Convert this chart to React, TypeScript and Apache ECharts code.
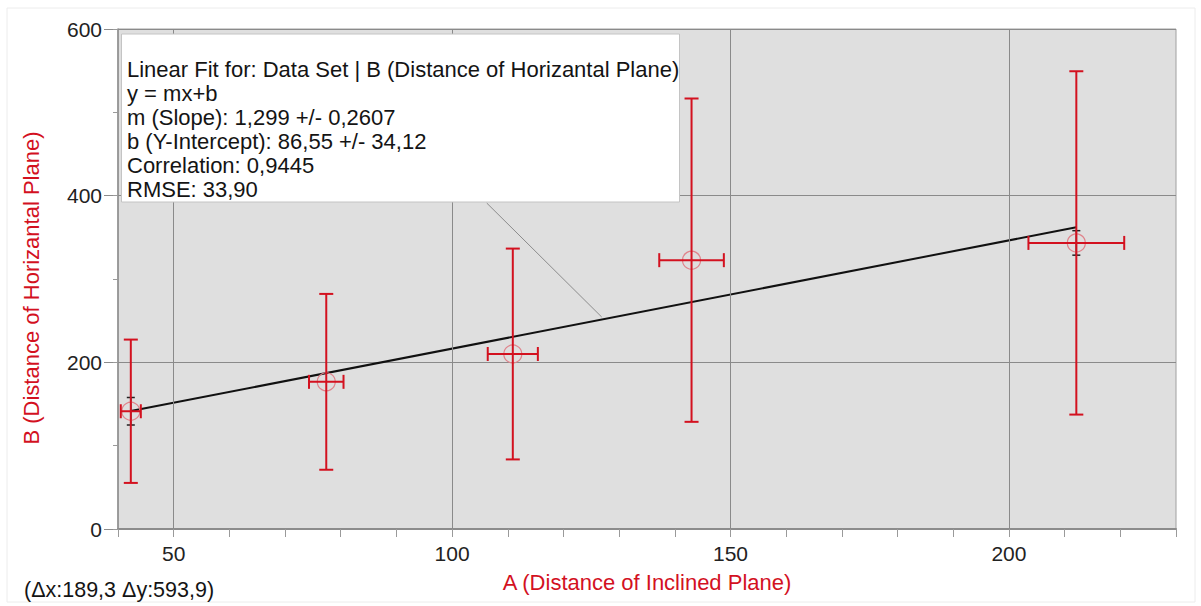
import React, { useEffect, useRef } from "react";
import * as echarts from "echarts";

// ---- data ----
const xValues = [42.3, 77.4, 110.9, 143.0, 212.1];
const yValues = [141.3, 176.6, 210.0, 322.6, 343.3];
const xErrors = [1.8, 3.1, 4.5, 5.8, 8.6];
const yErrors = [86, 105.5, 126.5, 194, 206];
// small black uncertainty marks visible at the first and last points
const blackIdx = [0, 4];
const blackErrors = [16.5, 14.7];

const slope = 1.299;
const intercept = 86.55;

const xTickLabels = [50, 100, 150, 200];
const yTickLabels = [0, 200, 400, 600];

const fitText = [
  "Linear Fit for: Data Set | B (Distance of Horizantal Plane)",
  "y = mx+b",
  "m (Slope): 1,299 +/- 0,2607",
  "b (Y-Intercept): 86,55 +/- 34,12",
  "Correlation: 0,9445",
  "RMSE: 33,90",
];
const deltaText = "(\u0394x:189,3 \u0394y:593,9)";
const xName = "A (Distance of Inclined Plane)";
const yName = "B (Distance of Horizantal Plane)";

const RED = "#d3111f";
const FONT = "Liberation Sans, Arial, sans-serif";

export default function App() {
  const ref = useRef<HTMLDivElement>(null);
  useEffect(() => {
    if (!ref.current) return;
    const chart = echarts.init(ref.current, undefined, { renderer: "svg" });
    const pts = xValues.map((x, i) => [x, yValues[i], xErrors[i], yErrors[i]]);
    const blackPts = blackIdx.map((i, k) => [xValues[i], yValues[i], blackErrors[k]]);
    const x0 = xValues[0];
    const x1 = xValues[xValues.length - 1];
    const fitData = [
      [x0, slope * x0 + intercept],
      [x1, slope * x1 + intercept],
    ];

    const option: any = {
      animation: false,
      backgroundColor: "#ffffff",
      textStyle: { fontFamily: FONT },
      grid: {
        left: 118,
        top: 29,
        width: 1058,
        height: 500,
        show: true,
        backgroundColor: "#dfdfdf",
        borderColor: "#a0a0a0",
        borderWidth: 1,
      },
      xAxis: {
        type: "value",
        min: 40,
        max: 230,
        interval: 10,
        name: xName,
        nameLocation: "middle",
        nameGap: 42,
        nameTextStyle: { color: RED, fontSize: 22, fontFamily: FONT },
        axisLine: { show: true, lineStyle: { color: "#8c8c8c", width: 2 } },
        axisTick: { show: true, length: 8, lineStyle: { color: "#9a9a9a" } },
        axisLabel: {
          color: "#222",
          fontSize: 21,
          margin: 14,
          fontFamily: FONT,
          formatter: (v: number) => (xTickLabels.indexOf(v) >= 0 ? String(v) : ""),
        },
        splitLine: { show: false },
      },
      yAxis: [
        {
          type: "value",
          min: 0,
          max: 600,
          interval: 200,
          name: yName,
          nameLocation: "middle",
          nameGap: 76,
          nameTextStyle: { color: RED, fontSize: 22, fontFamily: FONT, padding: [0, 18, 0, 0] },
          axisLine: { show: true, lineStyle: { color: "#8c8c8c", width: 1.5 } },
          axisTick: { show: true, length: 14, lineStyle: { color: "#8c8c8c" } },
          axisLabel: {
            color: "#222",
            fontSize: 21,
            margin: 16,
            fontFamily: FONT,
            formatter: (v: number) => (yTickLabels.indexOf(v) >= 0 ? String(v) : ""),
          },
          splitLine: { show: true, lineStyle: { color: "#8a8a8a", width: 1 } },
        },
        {
          type: "value",
          min: 0,
          max: 600,
          interval: 100,
          position: "left",
          axisLine: { show: false },
          axisTick: { show: true, length: 5, lineStyle: { color: "#9a9a9a" } },
          axisLabel: { show: false },
          splitLine: { show: false },
        },
      ],
      series: [
        {
          type: "scatter",
          data: [],
          z: 1,
          silent: true,
          markLine: {
            silent: true,
            symbol: "none",
            label: { show: false },
            lineStyle: { color: "#8a8a8a", width: 1, type: "solid" },
            data: xTickLabels.map((v) => ({ xAxis: v })),
          },
        },
        {
          type: "custom",
          z: 3,
          data: blackPts,
          renderItem: (params: any, api: any) => {
            const x = api.value(0), y = api.value(1), e = api.value(2);
            const t = api.coord([x, y + e]);
            const b = api.coord([x, y - e]);
            const st = { stroke: "#222", lineWidth: 1.5 };
            return {
              type: "group",
              children: [
                { type: "line", shape: { x1: t[0], y1: t[1], x2: b[0], y2: b[1] }, style: st },
                { type: "line", shape: { x1: t[0] - 4, y1: t[1], x2: t[0] + 4, y2: t[1] }, style: st },
                { type: "line", shape: { x1: b[0] - 4, y1: b[1], x2: b[0] + 4, y2: b[1] }, style: st },
              ],
            };
          },
        },
        {
          type: "line",
          z: 4,
          data: fitData,
          symbol: "none",
          lineStyle: { color: "#111", width: 2 },
        },
        {
          type: "custom",
          z: 5,
          data: pts,
          renderItem: (params: any, api: any) => {
            const x = api.value(0), y = api.value(1), ex = api.value(2), ey = api.value(3);
            const c = api.coord([x, y]);
            const t = api.coord([x, y + ey]);
            const b = api.coord([x, y - ey]);
            const l = api.coord([x - ex, y]);
            const r = api.coord([x + ex, y]);
            const st = { stroke: RED, lineWidth: 2 };
            const cap = 7;
            return {
              type: "group",
              children: [
                { type: "circle", shape: { cx: c[0], cy: c[1], r: 9 }, style: { fill: "none", stroke: "#e0838b", lineWidth: 1.2 } },
                { type: "line", shape: { x1: t[0], y1: t[1], x2: b[0], y2: b[1] }, style: st },
                { type: "line", shape: { x1: t[0] - cap, y1: t[1], x2: t[0] + cap, y2: t[1] }, style: st },
                { type: "line", shape: { x1: b[0] - cap, y1: b[1], x2: b[0] + cap, y2: b[1] }, style: st },
                { type: "line", shape: { x1: l[0], y1: l[1], x2: r[0], y2: r[1] }, style: st },
                { type: "line", shape: { x1: l[0], y1: l[1] - cap, x2: l[0], y2: l[1] + cap }, style: st },
                { type: "line", shape: { x1: r[0], y1: r[1] - cap, x2: r[0], y2: r[1] + cap }, style: st },
              ],
            };
          },
        },
      ],
      graphic: [
        {
          type: "rect",
          z: 0,
          silent: true,
          shape: { x: 7, y: 8, width: 1188, height: 594 },
          style: { fill: "none", stroke: "#ececec", lineWidth: 1 },
        },
        {
          type: "line",
          z: 90,
          shape: { x1: 486.7, y1: 203, x2: 601.7, y2: 317 },
          style: { stroke: "#8c8c8c", lineWidth: 1 },
        },
        {
          type: "rect",
          z: 100,
          shape: { x: 121.5, y: 34, width: 558, height: 168 },
          style: { fill: "#ffffff", stroke: "#c4c4c4", lineWidth: 1 },
        },
        {
          type: "group",
          z: 101,
          children: [
            { type: "rect", shape: { x: 122, y: 36, width: 15, height: 14 }, style: { fill: "#8e8e8e", stroke: "#777", lineWidth: 1 } },
            { type: "rect", shape: { x: 138, y: 36, width: 15, height: 14 }, style: { fill: "#8e8e8e", stroke: "#777", lineWidth: 1 } },
            { type: "line", shape: { x1: 125, y1: 39, x2: 134, y2: 47 }, style: { stroke: "#5e5e5e", lineWidth: 1.5 } },
            { type: "line", shape: { x1: 134, y1: 39, x2: 125, y2: 47 }, style: { stroke: "#5e5e5e", lineWidth: 1.5 } },
            { type: "line", shape: { x1: 141, y1: 43, x2: 150, y2: 43 }, style: { stroke: "#5e5e5e", lineWidth: 1.5 } },
          ],
        },
        {
          type: "text",
          z: 102,
          x: 127,
          y: 57,
          style: {
            text: fitText.join("\n"),
            fontSize: 22,
            lineHeight: 24,
            fontFamily: FONT,
            fill: "#141414",
            verticalAlign: "top",
            align: "left",
          },
        },
        {
          type: "text",
          z: 102,
          x: 24,
          y: 590,
          style: {
            text: deltaText,
            fontSize: 21.5,
            fontFamily: FONT,
            fill: "#141414",
            verticalAlign: "middle",
            align: "left",
          },
        },
      ],
    };
    chart.setOption(option);
    return () => chart.dispose();
  }, []);
  return (
    <div
      ref={ref}
      style={{ position: "absolute", left: 0, top: 0, width: 1201, height: 606, background: "#fff" }}
    />
  );
}
